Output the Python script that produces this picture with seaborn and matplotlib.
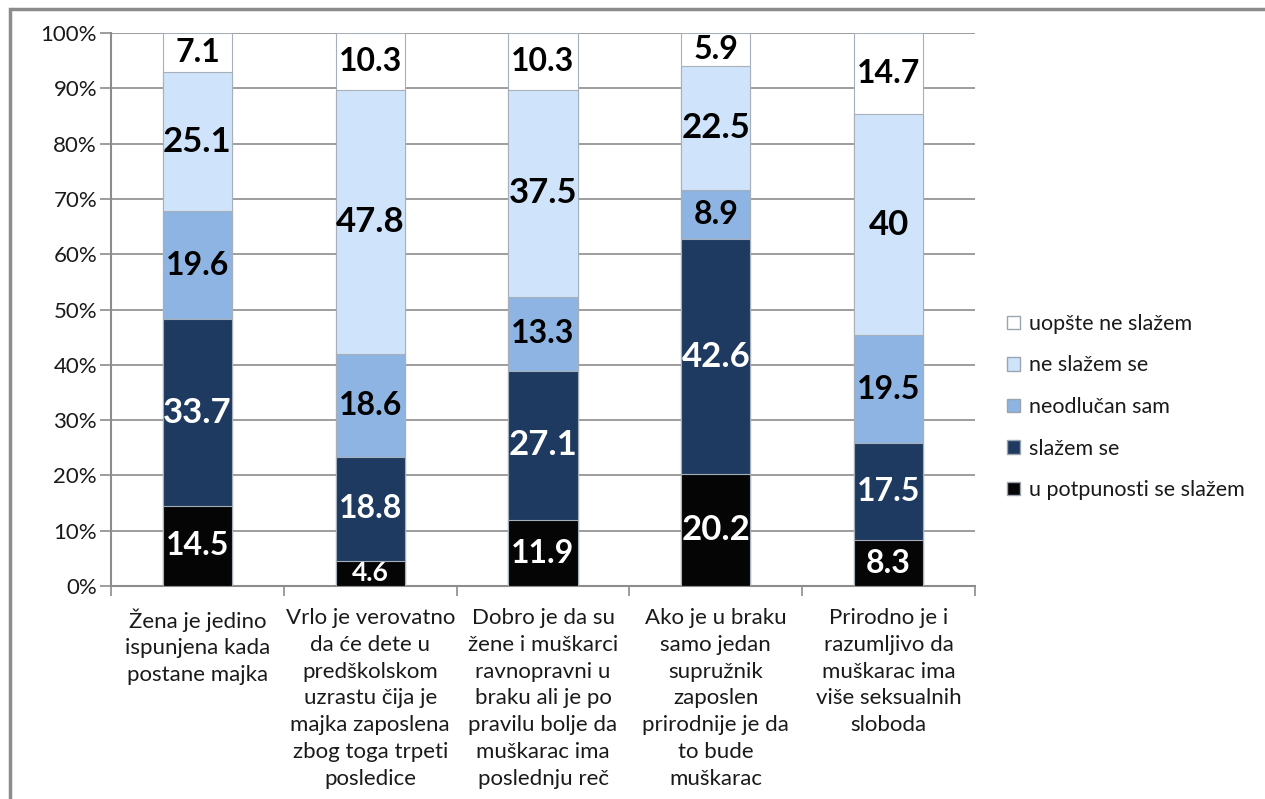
import pandas as pd
import matplotlib.pyplot as plt
import matplotlib.patches as mpatches
import seaborn as sns

# Data
statements = [
    "Žena je jedino\nispunjena kada\npostane majka",
    "Vrlo je verovatno\nda će dete u\npredškolskom\nuzrastu čija je\nmajka zaposlena\nzbog toga trpeti\nposledice",
    "Dobro je da su\nžene i muškarci\nravnopravni u\nbraku ali je po\npravilu bolje da\nmuškarac ima\nposlednju reč",
    "Ako je u braku\nsamo jedan\nsupružnik\nzaposlen\nprirodnije je da\nto bude\nmuškarac",
    "Prirodno je i\nrazumljivo da\nmuškarac ima\nviše seksualnih\nsloboda",
]
answers = ["u potpunosti se slažem", "slažem se", "neodlučan sam", "ne slažem se", "uopšte ne slažem"]
u_potpunosti = [14.5, 4.6, 11.9, 20.2, 8.3]
slazem = [33.7, 18.8, 27.1, 42.6, 17.5]
neodlucan = [19.6, 18.6, 13.3, 8.9, 19.5]
ne_slazem = [25.1, 47.8, 37.5, 22.5, 40]
uopste_ne = [7.1, 10.3, 10.3, 5.9, 14.7]

colors = ["#050505", "#1f3a60", "#8db4e2", "#cfe3fa", "#ffffff"]
text_colors = ["white", "white", "black", "black", "black"]

df = pd.DataFrame({"stmt": list(range(len(statements)))})
series = [u_potpunosti, slazem, neodlucan, ne_slazem, uopste_ne]
for name, vals in zip(answers, series):
    df[name] = vals
cum = df[answers].cumsum(axis=1)
cum = cum.div(cum[answers[-1]], axis=0) * 100  # scale to 100 %

plt.rcParams['font.family'] = ['Lato', 'DejaVu Sans']
fig = plt.figure(figsize=(12.65, 7.99), dpi=100)
ax = fig.add_axes([111 / 1265, 1 - 586 / 799, 864 / 1265, 553 / 799])

# outer frame
fig.patches.append(mpatches.Rectangle((10 / 1265, -0.1), 1.2, 1 - 9 / 799 + 0.1, transform=fig.transFigure,
                                      fill=False, edgecolor="#8c8c8c", linewidth=2.5, zorder=0))

# stacked bars: draw cumulative totals from top layer down
for i in range(len(answers) - 1, -1, -1):
    sns.barplot(x=df["stmt"], y=cum[answers[i]], color=colors[i], width=0.4,
                edgecolor="#a7b0ba", linewidth=0.8, ax=ax, zorder=3, saturation=1)

# value labels
for j in range(len(statements)):
    bottom = 0
    for i, name in enumerate(answers):
        top = cum.loc[j, name]
        v = df.loc[j, name]
        size = 25 if v >= 20 else (23 if v >= 5 else 19)
        ax.text(j, (bottom + top) / 2, f"{v:g}", ha="center", va="center",
                fontsize=size, fontweight="bold", color=text_colors[i], zorder=5)
        bottom = top

ax.set_xlim(-0.5, len(statements) - 0.5)
ax.set_ylim(0, 100)
ax.set_yticks(range(0, 101, 10))
ax.set_yticklabels([f"{t}%" for t in range(0, 101, 10)], fontsize=16, color="#1a1a1a")
ax.set_xticks(range(len(statements)))
ax.set_xticklabels(statements, fontsize=16, linespacing=1.42, va="top", color="#1a1a1a")
ax.set_xticks([k - 0.5 for k in range(len(statements) + 1)], minor=True)
ax.tick_params(axis="x", which="major", length=0, pad=16)
ax.tick_params(axis="x", which="minor", length=7, color="#8c8c8c", width=1.2, direction="out")
ax.tick_params(axis="y", length=8, color="#8c8c8c", width=1.2, pad=2)
ax.set_xlabel("")
ax.set_ylabel("")

ax.grid(axis="y", color="#8c8c8c", linewidth=1.2, zorder=0)
ax.set_axisbelow(True)
for s in ["top", "right"]:
    ax.spines[s].set_visible(False)
for s in ["left", "bottom"]:
    ax.spines[s].set_color("#8c8c8c")
    ax.spines[s].set_linewidth(1.5)

handles = [mpatches.Patch(facecolor=colors[i], edgecolor="#9aa5b1", label=answers[i])
           for i in range(len(answers) - 1, -1, -1)]
fig.legend(handles=handles, loc="center left", bbox_to_anchor=(988 / 1265, 1 - 407 / 799),
           frameon=False, fontsize=15.5, handlelength=0.6, handleheight=0.6,
           handletextpad=0.4, labelspacing=1.0, labelcolor="#1a1a1a")

fig.savefig("out.png", dpi=100)
